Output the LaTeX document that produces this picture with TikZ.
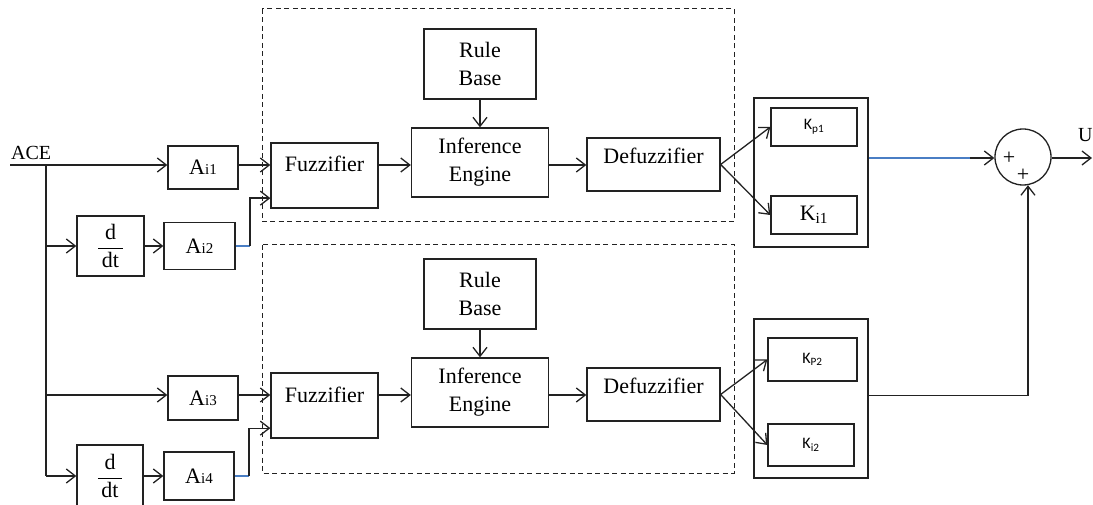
\documentclass[tikz,border=0pt]{standalone}
\usepackage{fontspec}
\setmainfont{Liberation Serif}
\newfontfamily\gainfont{Carlito}
\usetikzlibrary{arrows.meta, positioning, calc}
\definecolor{inkline}{HTML}{222222}
\definecolor{wireblue}{HTML}{4A7EC4}
\newcommand{\asub}[1]{{\fontsize{15}{15}\selectfont #1}}
\newcommand{\ksans}{\gainfont\fontsize{16}{16}\selectfont}

\begin{document}
\begin{tikzpicture}[x=1pt, y=-1pt, font=\fontsize{22}{28}\selectfont,
  blk/.style={draw=inkline, line width=1.3pt, inner sep=0pt, align=center},
  arr/.style={draw=inkline, line width=1.3pt, -{Straight Barb[length=9pt, width=14pt]}},
  wire/.style={draw=inkline, line width=1.3pt},
  bluewire/.style={draw=wireblue, line width=1.3pt},
  zone/.style={draw=inkline, line width=1pt, dash pattern=on 5pt off 3.5pt}]
  \useasboundingbox (0,0) rectangle (1093,505);

  % input side
  \coordinate (acein) at (10,165);
  \coordinate (tap) at (46,165);
  \node[anchor=south west, inner sep=0pt, font=\fontsize{20}{24}\selectfont] (acelab) at (11,160) {ACE};
  \node[blk, minimum width=70pt, minimum height=43pt] (ai1) at (203,167.5) {A\asub{i1}};
  \node[blk, minimum width=67pt, minimum height=60pt] (ddt1) at (110.5,246)
    {$\displaystyle\frac{\mathrm{d}}{\,\mathrm{dt}\,}$};
  \node[blk, minimum width=71pt, minimum height=47pt] (ai2) at (199.5,246) {A\asub{i2}};
  \node[blk, minimum width=70pt, minimum height=44pt] (ai3) at (203,398) {A\asub{i3}};
  \node[blk, minimum width=66pt, minimum height=62pt] (ddt2) at (110,476)
    {$\displaystyle\frac{\mathrm{d}}{\,\mathrm{dt}\,}$};
  \node[blk, minimum width=70pt, minimum height=48pt] (ai4) at (199,476) {A\asub{i4}};

  % two fuzzy controllers
  \foreach \n/\dy in {1/0, 2/230}{%
    \coordinate (row\n) at (0,165+\dy);
    \node[blk, minimum width=107pt, minimum height=65pt, text height=15pt, text depth=22pt]
      (fuz\n) at (324.5,175.5+\dy) {Fuzzifier};
    \node[blk, minimum width=137pt, minimum height=69pt] (inf\n) at (480,162.5+\dy) {Inference\\Engine};
    \node[blk, minimum width=112pt, minimum height=70pt] (rule\n) at (480,64+\dy) {Rule\\Base};
    \node[blk, minimum width=133pt, minimum height=53pt, text height=15pt, text depth=17pt]
      (def\n) at (653.5,164.5+\dy) {Defuzzifier};
    \draw[arr] (rule\n) -- (inf\n);
    \draw[arr] (fuz\n.east |- row\n) -- (inf\n.west |- row\n);
    \draw[arr] (inf\n.east |- row\n) -- (def\n.west |- row\n);}
  \draw[zone] (262,9) rectangle (734,222);
  \draw[zone] (262,245) rectangle (734,473);

  % wiring of the inputs
  \draw[arr] (acein) -- (acein -| ai1.west);
  \draw[wire] (tap) -- (tap |- ddt2);
  \draw[arr] (tap |- ddt1) -- (ddt1);
  \draw[arr] (row2 -| tap) -- (row2 -| ai3.west);
  \draw[arr] (tap |- ddt2) -- (ddt2);
  \draw[arr] (ddt1) -- (ai2);
  \draw[arr] (ddt2) -- (ai4);
  \draw[arr] (ai1.east |- row1) -- (fuz1.west |- row1);
  \draw[arr] (ai3.east |- row2) -- (fuz2.west |- row2);
  \coordinate (bend2) at (250,246);
  \coordinate (bend4) at (249,476);
  \draw[bluewire] (ai2.east) -- (bend2);
  \draw[arr] (bend2) |- ([yshift=10.5pt]fuz1.south west);
  \draw[bluewire] (ai4.east) -- (bend4);
  \draw[arr] (bend4) |- ([yshift=10.5pt]fuz2.south west);

  % gains
  \node[blk, minimum width=114pt, minimum height=149pt] (kbox1) at (811,172.5) {};
  \node[blk, minimum width=86pt, minimum height=38pt] (kp1) at (814,127) {\ksans K\textsubscript{p1}};
  \node[blk, minimum width=86pt, minimum height=38pt] (ki1) at (814,215) {K\textsubscript{i1}};
  \node[blk, minimum width=114pt, minimum height=159pt] (kbox2) at (811,398.5) {};
  \node[blk, minimum width=89pt, minimum height=43pt] (kp2) at (812.5,359.5) {\ksans K\textsubscript{P2}};
  \node[blk, minimum width=86pt, minimum height=42pt] (ki2) at (811,445) {\ksans K\textsubscript{i2}};
  \foreach \n in {1,2}{%
    \draw[arr] (def\n.east) -- (kp\n.west);
    \draw[arr] (def\n.east) -- (ki\n.west);}

  % summing junction
  \node[draw=inkline, line width=1.3pt, circle, minimum size=56pt, inner sep=0pt] (sum) at (1023,157) {};
  \node[inner sep=0pt] (plus1) at (1009,158) {+};
  \node[inner sep=0pt] (plus2) at (1023,175) {+};
  \coordinate (sumin) at (970,158);
  \coordinate (uout) at (1092,158);
  \draw[bluewire] (kbox1.east |- sumin) -- (sumin);
  \draw[arr] (sumin) -- (sum.west |- sumin);
  \draw[arr] ([yshift=3pt]kbox2.east) -| (sum.-80);
  \draw[arr] (sum.east |- uout) -- (uout);
  \node[anchor=south west, inner sep=0pt, font=\fontsize{20}{24}\selectfont] (ulab) at (1078,142) {U};
\end{tikzpicture}
\end{document}
